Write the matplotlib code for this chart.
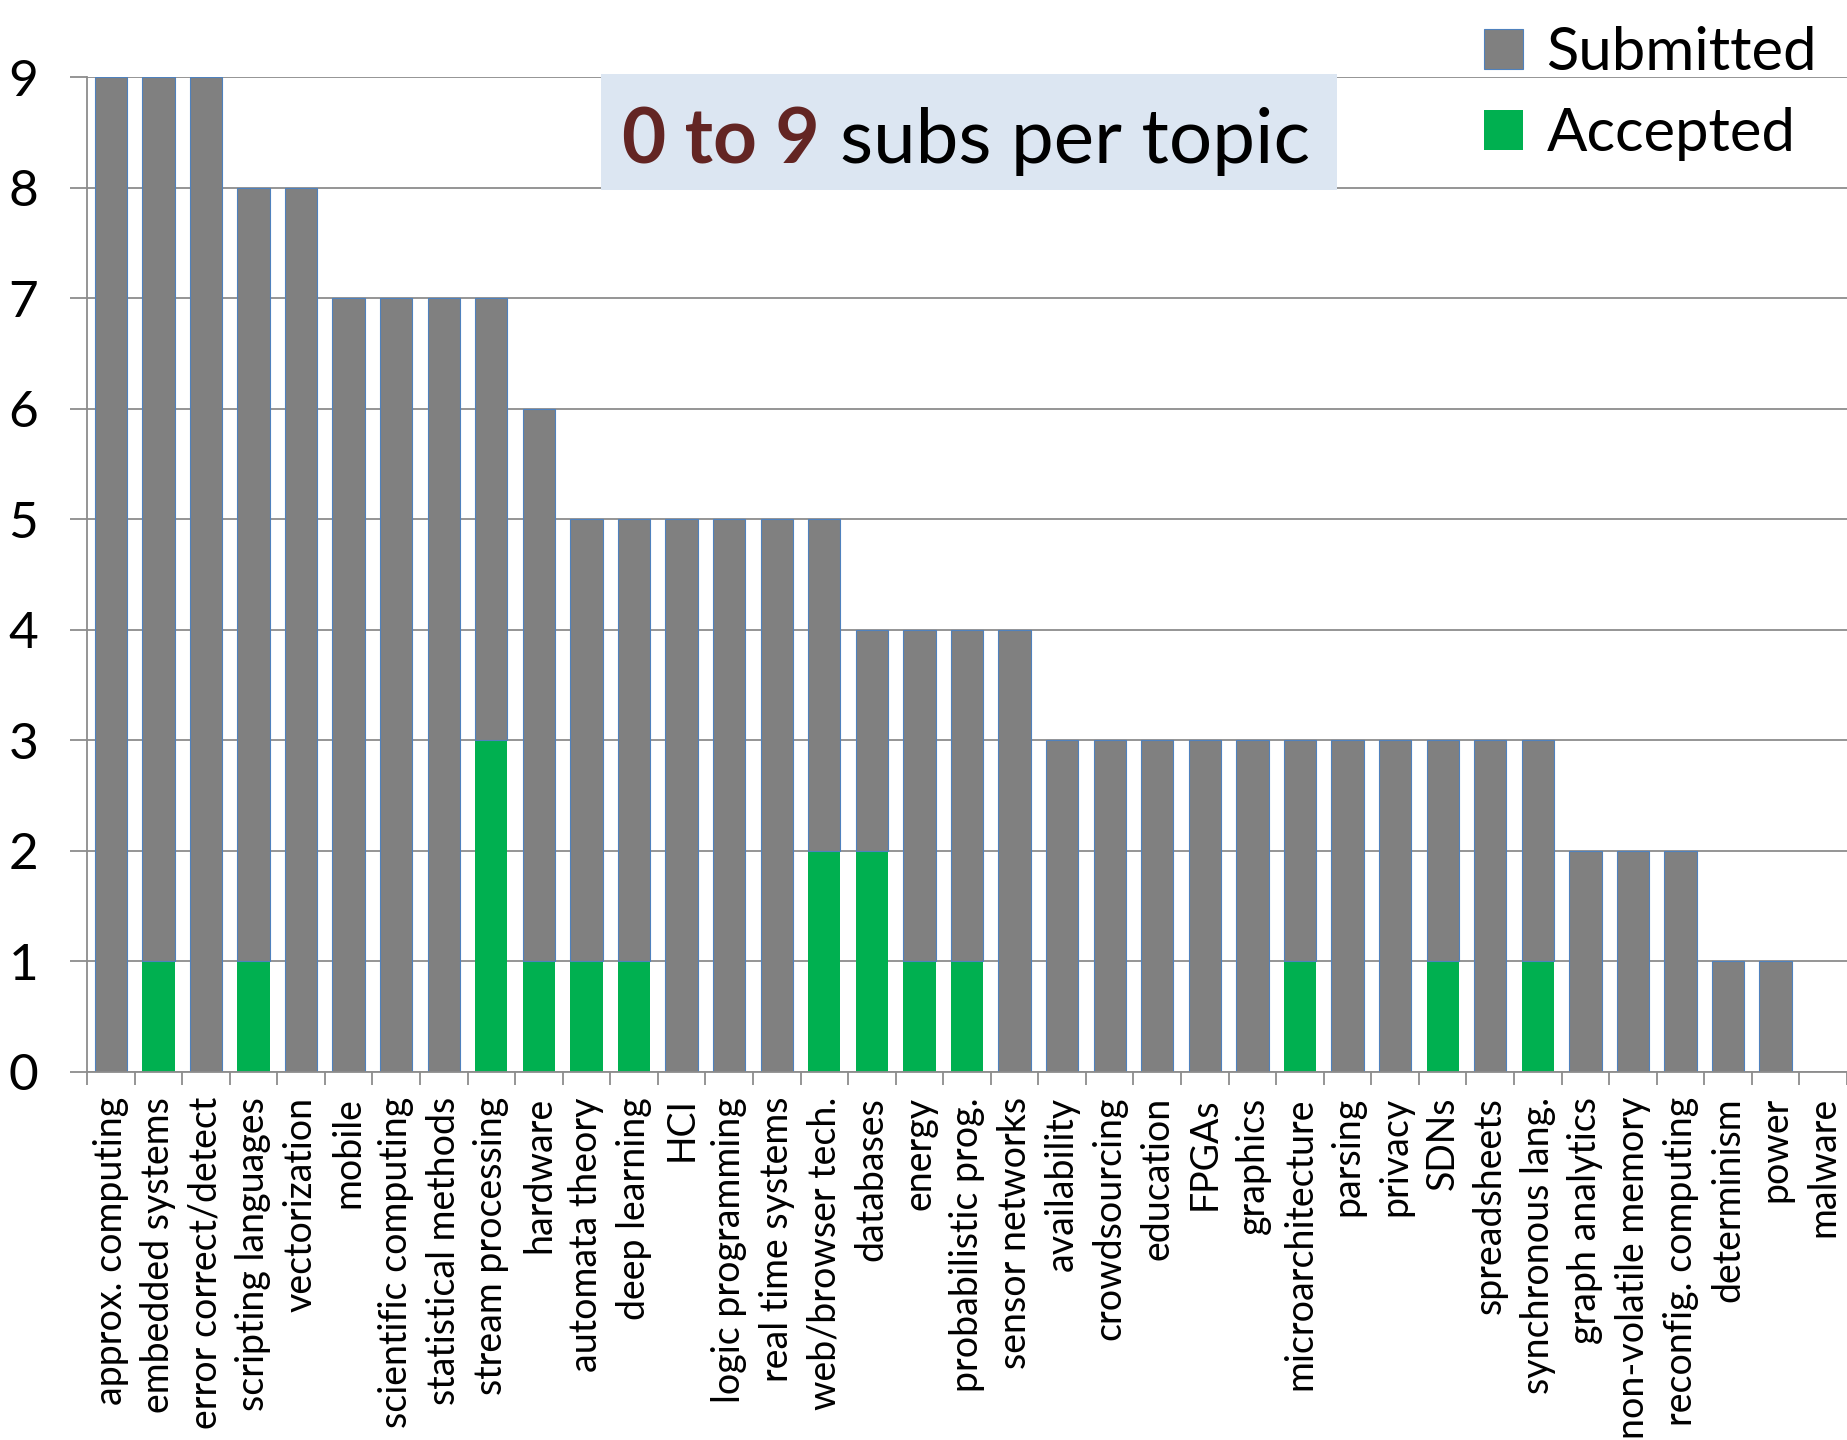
import numpy as np
import matplotlib
matplotlib.use("Agg")
import matplotlib.pyplot as plt
from matplotlib.patches import Patch, Rectangle

plt.rcParams['font.family'] = ['Lato', 'DejaVu Sans']

topics = [
    "approx. computing", "embedded systems", "error correct/detect",
    "scripting languages", "vectorization", "mobile", "scientific computing",
    "statistical methods", "stream processing", "hardware", "automata theory",
    "deep learning", "HCI", "logic programming", "real time systems",
    "web/browser tech.", "databases", "energy", "probabilistic prog.",
    "sensor networks", "availability", "crowdsourcing", "education", "FPGAs",
    "graphics", "microarchitecture", "parsing", "privacy", "SDNs",
    "spreadsheets", "synchronous lang.", "graph analytics",
    "non-volatile memory", "reconfig. computing", "determinism", "power",
    "malware",
]
submitted = [9, 9, 9, 8, 8, 7, 7, 7, 7, 6, 5, 5, 5, 5, 5, 5, 4, 4, 4, 4,
             3, 3, 3, 3, 3, 3, 3, 3, 3, 3, 3, 2, 2, 2, 1, 1, 0]
accepted = [0, 1, 0, 1, 0, 0, 0, 0, 3, 1, 1, 1, 0, 0, 0, 2, 2, 1, 1, 0,
            0, 0, 0, 0, 0, 1, 0, 0, 1, 0, 1, 0, 0, 0, 0, 0, 0]
y_ticks = list(range(10))

GRAY = '#808080'
GREEN = '#00B050'
EDGE = '#4F81BD'
GRID = '#8C8C8C'

W, H = 1847, 1440
fig = plt.figure(figsize=(W / 100, H / 100), dpi=100)
ax = fig.add_axes([87 / W, 1 - 1072 / H, 1 - 87 / W, (1072 - 77) / H])

x = np.arange(len(topics))
sub = np.array(submitted)
acc = np.array(accepted)

ax.bar(x, acc, width=0.68, color=GREEN, zorder=2)
ax.bar(x, sub - acc, bottom=acc, width=0.68, color=GRAY,
       edgecolor=EDGE, linewidth=0.8, zorder=2)

ax.set_xlim(-0.5, len(topics) - 0.5)
ax.set_ylim(0, 9)
ax.set_yticks(y_ticks)
ax.yaxis.grid(True, color=GRID, linewidth=1.3)
ax.set_axisbelow(True)

ax.set_xticks(x)
ax.set_xticklabels(topics, rotation=90, va='top', ha='center', fontsize=27)
ax.set_xticks(np.arange(-0.5, len(topics), 1), minor=True)
ax.tick_params(axis='x', which='major', length=0, pad=18)
ax.tick_params(axis='x', which='minor', length=9, width=1.3, color=GRID)
ax.tick_params(axis='y', length=12, width=1.3, color=GRID, pad=23, labelsize=37)

for side in ['top', 'right']:
    ax.spines[side].set_visible(False)
for side in ['left', 'bottom']:
    ax.spines[side].set_color(GRID)
    ax.spines[side].set_linewidth(1.3)

# annotation box
fig.patches.append(Rectangle((601 / W, 1 - 190 / H), (1337 - 601) / W, (190 - 74) / H,
                             transform=fig.transFigure, facecolor='#DCE6F2',
                             edgecolor='none', zorder=3))
t1 = fig.text(622 / W, 1 - 163 / H, "0 to 9", fontsize=55, fontweight='bold',
              color='#632523', va='baseline', ha='left', zorder=4)
fig.canvas.draw()
bb = t1.get_window_extent()
fig.text((bb.x1 + 20) / W, 1 - 163 / H, "subs per topic", fontsize=55,
         color='black', va='baseline', ha='left', zorder=4)

handles = [Patch(facecolor=GRAY, edgecolor=EDGE, linewidth=0.8),
           Patch(facecolor=GREEN, edgecolor='none')]
fig.legend(handles, ["Submitted", "Accepted"], loc='upper left',
           bbox_to_anchor=(1442 / W, 1 + 16 / H), frameon=False, fontsize=43,
           handlelength=0.65, handleheight=0.65, handletextpad=0.4,
           labelspacing=0.45, borderpad=0.2)

fig.savefig("out.png", dpi=100)
